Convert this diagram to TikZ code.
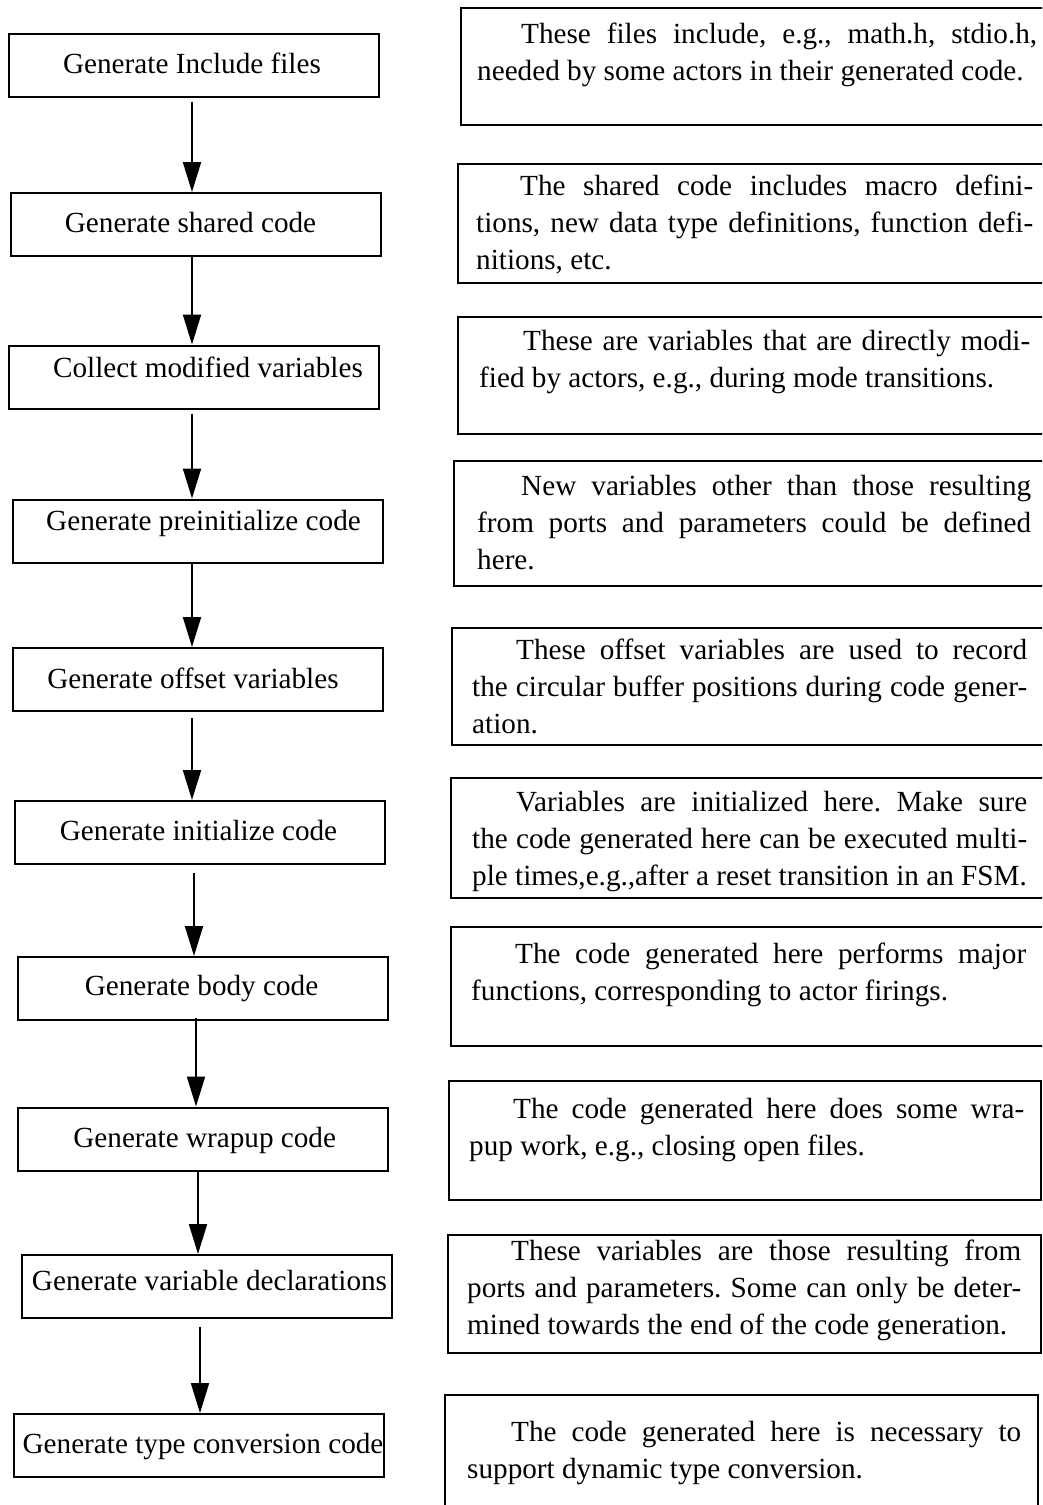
\documentclass[tikz,border=0pt]{standalone}
\usepackage{fontspec}
\setmainfont{Liberation Serif}
\usetikzlibrary{arrows.meta}
\frenchspacing
\begin{document}
\begin{tikzpicture}[x=1pt,y=-1pt,
  lbox/.style={draw, line width=2pt, rectangle, minimum width=370pt, minimum height=63pt, inner sep=0pt},
  rbox/.style={draw, line width=2pt, rectangle, inner sep=0pt, anchor=north west},
  ltext/.style={anchor=base, inner sep=0pt, font=\fontsize{29.2}{37}\selectfont},
  rtext/.style={anchor=base west, inner sep=0pt, font=\fontsize{29.2}{37}\selectfont\frenchspacing},
  arr/.style={line width=2pt, -{Triangle[length=30pt,width=18pt]}}
]
\useasboundingbox (0,0) rectangle (1042,1505);
\clip (0,0) rectangle (1042,1505);

% left boxes
\node[lbox] (b1) at (193.5,65) {};
\node[lbox] (b2) at (195.5,224.5) {};
\node[lbox] (b3) at (193.5,377) {};
\node[lbox] (b4) at (198,531) {};
\node[lbox] (b5) at (198,679.5) {};
\node[lbox] (b6) at (199.5,832.5) {};
\node[lbox] (b7) at (203,988.5) {};
\node[lbox] (b8) at (203,1139) {};
\node[lbox] (b9) at (206.5,1286.5) {};
\node[lbox] (b10) at (199,1445.5) {};

\node[ltext] (t1) at (192,73) {Generate Include files};
\node[ltext] (t2) at (190.5,232) {Generate shared code};
\node[ltext] (t3) at (208,377) {Collect modified variables};
\node[ltext] (t4) at (203.5,530) {Generate preinitialize code};
\node[ltext] (t5) at (193,688) {Generate offset variables};
\node[ltext] (t6) at (198.5,840) {Generate initialize code};
\node[ltext] (t7) at (201.5,995) {Generate body code};
\node[ltext] (t8) at (204.7,1147) {Generate wrapup code};
\node[ltext] (t9) at (209.5,1290) {Generate variable declarations};
\node[ltext] (t10) at (203,1453) {Generate type conversion code};

% arrow x positions
\coordinate (x1) at (192,0);
\coordinate (x2) at (192,0);
\coordinate (x3) at (192,0);
\coordinate (x4) at (192,0);
\coordinate (x5) at (192,0);
\coordinate (x6) at (194,0);
\coordinate (x7) at (196,0);
\coordinate (x8) at (198,0);
\coordinate (x9) at (200,0);

\draw[arr, shorten <=4pt] (b1.south -| x1) -- (b2.north -| x1);
\draw[arr] (b2.south -| x2) -- (b3.north -| x2);
\draw[arr, shorten <=4pt] (b3.south -| x3) -- (b4.north -| x3);
\draw[arr] (b4.south -| x4) -- (b5.north -| x4);
\draw[arr, shorten <=6pt] (b5.south -| x5) -- (b6.north -| x5);
\draw[arr, shorten <=8pt] (b6.south -| x6) -- (b7.north -| x6);
\draw[arr, shorten <=-3pt] (b7.south -| x7) -- (b8.north -| x7);
\draw[arr] (b8.south -| x8) -- (b9.north -| x8);
\draw[arr, shorten <=8pt] (b9.south -| x9) -- (b10.north -| x9);

% right boxes
\node[rbox, minimum width=600pt, minimum height=117pt] (r1) at (460,7) {};
\node[rbox, minimum width=600pt, minimum height=119pt] (r2) at (457,163) {};
\node[rbox, minimum width=600pt, minimum height=117pt] (r3) at (457,316) {};
\node[rbox, minimum width=600pt, minimum height=125pt] (r4) at (453,460) {};
\node[rbox, minimum width=600pt, minimum height=117pt] (r5) at (451,627) {};
\node[rbox, minimum width=600pt, minimum height=120pt] (r6) at (450,777) {};
\node[rbox, minimum width=600pt, minimum height=119pt] (r7) at (450,926) {};
\node[rbox, minimum width=592pt, minimum height=119pt] (r8) at (448,1080) {};
\node[rbox, minimum width=593pt, minimum height=118pt] (r9) at (447,1234) {};
\node[rbox, minimum width=593pt, minimum height=130pt] (r10) at (444,1394) {};

\node[rtext] (d1) at (477,43) {\parbox[t]{560pt}{%
\makebox[\linewidth][s]{\hspace*{44pt}These files include, e.g., math.h, stdio.h,}\\
needed by some actors in their generated code.}};
\node[rtext] (d2) at (476,195) {\parbox[t]{557pt}{%
\makebox[\linewidth][s]{\hspace*{44pt}The shared code includes macro defini-}\\
\makebox[\linewidth][s]{tions, new data type definitions, function defi-}\\
nitions, etc.}};
\node[rtext] (d3) at (479,350) {\parbox[t]{551pt}{%
\makebox[\linewidth][s]{\hspace*{44pt}These are variables that are directly modi-}\\
fied by actors, e.g., during mode transitions.}};
\node[rtext] (d4) at (477,495) {\parbox[t]{554pt}{%
\makebox[\linewidth][s]{\hspace*{44pt}New variables other than those resulting}\\
\makebox[\linewidth][s]{from ports and parameters could be defined}\\
here.}};
\node[rtext] (d5) at (472,659) {\parbox[t]{555pt}{%
\makebox[\linewidth][s]{\hspace*{44pt}These offset variables are used to record}\\
\makebox[\linewidth][s]{the circular buffer positions during code gener-}\\
ation.}};
\node[rtext] (d6) at (472,811) {\parbox[t]{555pt}{%
\makebox[\linewidth][s]{\hspace*{44pt}Variables are initialized here. Make sure}\\
\makebox[\linewidth][s]{the code generated here can be executed multi-}\\
ple times,e.g.,after a reset transition in an FSM.}};
\node[rtext] (d7) at (471,963) {\parbox[t]{555pt}{%
\makebox[\linewidth][s]{\hspace*{44pt}The code generated here performs major}\\
functions, corresponding to actor firings.}};
\node[rtext] (d8) at (469,1118) {\parbox[t]{555pt}{%
\makebox[\linewidth][s]{\hspace*{44pt}The code generated here does some wra-}\\
pup work, e.g., closing open files.}};
\node[rtext] (d9) at (467,1260) {\parbox[t]{554pt}{%
\makebox[\linewidth][s]{\hspace*{44pt}These variables are those resulting from}\\
\makebox[\linewidth][s]{ports and parameters. Some can only be deter-}\\
mined towards the end of the code generation.}};
\node[rtext] (d10) at (467,1441) {\parbox[t]{554pt}{%
\makebox[\linewidth][s]{\hspace*{44pt}The code generated here is necessary to}\\
support dynamic type conversion.}};
\end{tikzpicture}
\end{document}
